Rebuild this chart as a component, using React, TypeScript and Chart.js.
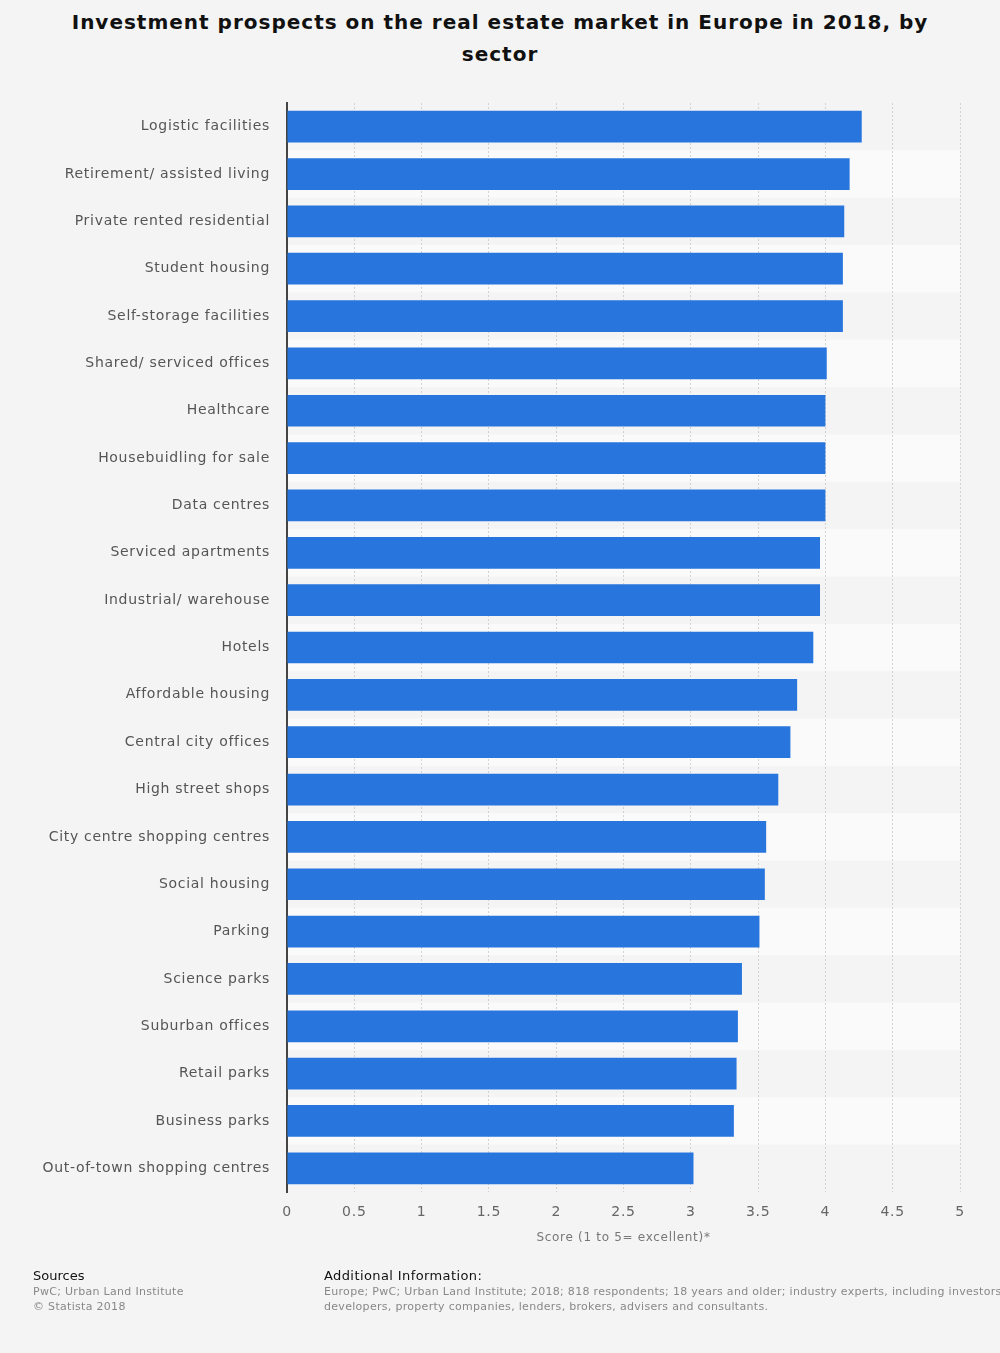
import React, { useEffect, useRef } from "react";
import { Chart, registerables } from "chart.js";

Chart.register(...registerables);

const categories = [
  "Logistic facilities",
  "Retirement/ assisted living",
  "Private rented residential",
  "Student housing",
  "Self-storage facilities",
  "Shared/ serviced offices",
  "Healthcare",
  "Housebuidling for sale",
  "Data centres",
  "Serviced apartments",
  "Industrial/ warehouse",
  "Hotels",
  "Affordable housing",
  "Central city offices",
  "High street shops",
  "City centre shopping centres",
  "Social housing",
  "Parking",
  "Science parks",
  "Suburban offices",
  "Retail parks",
  "Business parks",
  "Out-of-town shopping centres",
];

const scores = [
  4.27, 4.18, 4.14, 4.13, 4.13, 4.01, 4.0, 4.0, 4.0, 3.96, 3.96, 3.91, 3.79,
  3.74, 3.65, 3.56, 3.55, 3.51, 3.38, 3.35, 3.34, 3.32, 3.02,
];

const xTickValues = [0, 0.5, 1, 1.5, 2, 2.5, 3, 3.5, 4, 4.5, 5];

const titleLines = [
  "Investment prospects on the real estate market in Europe in 2018, by",
  "sector",
];
const xAxisTitle = "Score (1 to 5= excellent)*";

const FONT = "'DejaVu Sans', sans-serif";

const bandPlugin = {
  id: "bands",
  beforeDraw(chart: any) {
    const { ctx, chartArea, scales } = chart;
    try {
      ctx.letterSpacing = "0.7px";
    } catch (e) {}
    const y = scales.y;
    const step = y.getPixelForValue(1) - y.getPixelForValue(0);
    ctx.save();
    ctx.fillStyle = "#fafafa";
    for (let i = 0; i < categories.length; i++) {
      if (i % 2 === 1) {
        const c = y.getPixelForValue(i);
        ctx.fillRect(chartArea.left, c - step / 2, chartArea.right - chartArea.left, step);
      }
    }
    ctx.restore();
  },
};

export default function App() {
  const ref = useRef<HTMLCanvasElement | null>(null);

  useEffect(() => {
    if (!ref.current) return;
    const chart = new Chart(ref.current, {
      type: "bar",
      data: {
        labels: categories,
        datasets: [
          {
            data: scores,
            backgroundColor: "#2876dd",
            borderWidth: 0,
            categoryPercentage: 1,
            barPercentage: 0.67,
          },
        ],
      },
      options: {
        indexAxis: "y",
        animation: false,
        responsive: false,
        maintainAspectRatio: false,
        layout: { padding: { top: 103, right: 40, bottom: 101, left: 0 } },
        plugins: {
          legend: { display: false },
          tooltip: { enabled: false },
          title: { display: false },
        },
        scales: {
          x: {
            type: "linear",
            min: 0,
            max: 5,
            afterBuildTicks(scale: any) {
              scale.ticks = xTickValues.map((v) => ({ value: v }));
            },
            afterFit(scale: any) {
              scale.height = 60;
            },
            ticks: {
              color: "#666",
              font: { family: FONT, size: 14 },
              padding: 12,
              callback: (v: any) => String(v),
            },
            grid: {
              color: "#d2d2d2",
              lineWidth: 1,
              drawTicks: false,
            },
            border: { display: false, dash: [2, 2] },
            title: {
              display: true,
              text: xAxisTitle,
              color: "#777",
              font: { family: FONT, size: 12 },
              padding: { top: 0, bottom: 7 },
            },
          },
          y: {
            afterFit(scale: any) {
              scale.width = 287;
            },
            ticks: {
              color: "#555",
              font: { family: FONT, size: 14 },
              padding: 17,
            },
            grid: { display: false, drawTicks: false },
            border: { display: true, color: "#444", width: 2 },
          },
        },
      } as any,
      plugins: [bandPlugin],
    });
    return () => chart.destroy();
  }, []);

  return (
    <div
      style={{
        position: "absolute",
        left: 0,
        top: 0,
        width: 1000,
        height: 1353,
        background: "#f4f4f4",
        overflow: "hidden",
        fontFamily: FONT,
      }}
    >
      <div
        style={{
          position: "absolute",
          left: 0,
          top: 6,
          width: 1000,
          textAlign: "center",
          fontWeight: "bold",
          fontSize: 20,
          lineHeight: "32px",
          color: "#111",
          letterSpacing: 1,
        }}
      >
        {titleLines.map((t, i) => (
          <div key={i}>{t}</div>
        ))}
      </div>
      <canvas
        ref={ref}
        width={1000}
        height={1353}
        style={{ position: "absolute", left: 0, top: 0, width: 1000, height: 1353 }}
      />
      <div style={{ position: "absolute", left: 33, top: 1268, whiteSpace: "nowrap" }}>
        <div style={{ fontSize: 13, color: "#111", lineHeight: "16px" }}>Sources</div>
        <div style={{ fontSize: 11, color: "#888", lineHeight: "15px", letterSpacing: 0.3 }}>
          PwC; Urban Land Institute
        </div>
        <div style={{ fontSize: 11, color: "#888", lineHeight: "15px", letterSpacing: 0.3 }}>
          © Statista 2018
        </div>
      </div>
      <div style={{ position: "absolute", left: 324, top: 1268, whiteSpace: "nowrap" }}>
        <div style={{ fontSize: 13, color: "#111", lineHeight: "16px", letterSpacing: 0.4 }}>
          Additional Information:
        </div>
        <div style={{ fontSize: 11, color: "#888", lineHeight: "15px", letterSpacing: 0.3 }}>
          Europe; PwC; Urban Land Institute; 2018; 818 respondents; 18 years and older; industry experts, including investors, fund managers,
        </div>
        <div style={{ fontSize: 11, color: "#888", lineHeight: "15px", letterSpacing: 0.3 }}>
          developers, property companies, lenders, brokers, advisers and consultants.
        </div>
      </div>
    </div>
  );
}
